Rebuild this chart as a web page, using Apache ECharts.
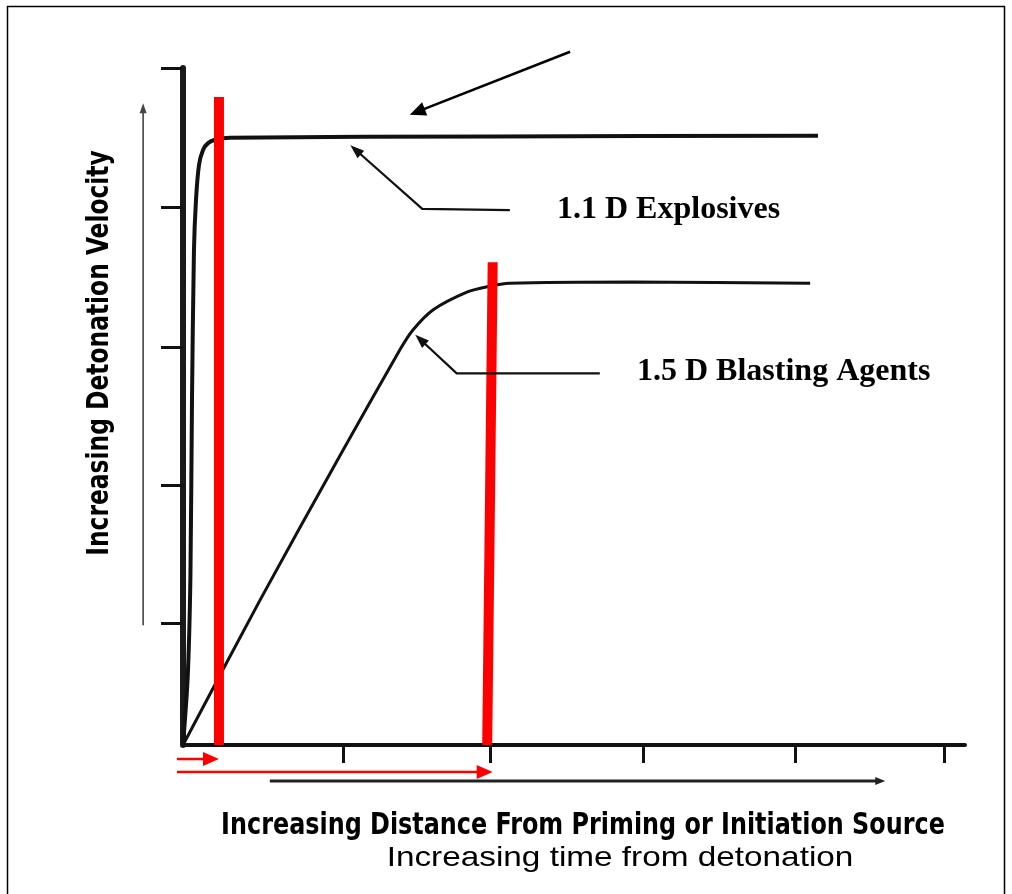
<!DOCTYPE html>
<html><head><meta charset="utf-8">
<script src="https://cdn.jsdelivr.net/npm/echarts@6/dist/echarts.min.js"></script>
<style>html,body{margin:0;padding:0;background:#fff}#c{width:1012px;height:894px}</style>
</head><body><div id="c"></div>
<script>
// ---- data (relative units: distance 0..100, velocity 0..100) ----
const xTicks = [20.5, 39.3, 58.8, 78.3, 97.4];
const yTicks = [18, 38.4, 58.8, 79.5, 100];
const explosives11 = [[0,0],[0.6,10],[0.95,25],[1.15,51],[1.4,73],[1.66,80.5],[2.05,85.7],[2.56,87.9],[3.2,88.9],[4.1,89.4],[6.0,89.7],[40,89.9],[81.2,90]];
const blasting15 = [[0,0],[9.85,21.4],[20.1,42.8],[27.7,58.3],[29.4,61.3],[32.0,64.3],[36.3,66.9],[38.9,67.7],[41.8,68.2],[57.5,68.4],[80.2,68.2]];
const redMarkA = [[4.6,0],[4.6,95.7]];
const redMarkB = [[38.9,0],[39.6,71.3]];
const redArrowShort = [[-0.77,-2.07],[4.6,-2.07]];
const redArrowLong = [[-0.77,-4.0],[39.6,-4.0]];
const topPointer = [[49.5,102.4],[29.0,93.1]];
const velocityArrow = [[-5.1,17.7],[-5.1,94.8]];
const distanceArrow = [[11.1,-5.3],[89.8,-5.3]];
const leader11 = [[41.8,79.0],[30.6,79.2],[21.4,88.6]];
const leader15 = [[53.3,54.9],[35.0,54.9],[29.7,60.6]];
const labels = ['1.1 D Explosives', '1.5 D Blasting Agents'];
const yTitle = 'Increasing Detonation Velocity';
const xTitle1 = 'Increasing Distance From Priming or Initiation Source';
const xTitle2 = 'Increasing time from detonation';

// ---- annotation styling (kept separate from data) ----
const annotations = [
  {pts: redArrowShort, color: '#ff0000', width: 2.5, head: [16, 7]},
  {pts: redArrowLong, color: '#ff0000', width: 2.5, head: [16, 7]},
  {pts: topPointer, color: '#000', width: 2.5, head: [16, 7]},
  {pts: velocityArrow, color: '#444', width: 1.6, head: [10, 3.5]},
  {pts: distanceArrow, color: '#222', width: 3, head: [10, 4]},
  {pts: leader11, color: '#111', width: 2.2, head: [14, 5]},
  {pts: leader15, color: '#111', width: 2.2, head: [14, 5]}
];

function renderArrow(params, api) {
  const a = annotations[params.dataIndex];
  const c = a.pts.map(p => api.coord(p));
  const n = c.length;
  const tip = c[n-1], prev = c[n-2];
  const dx = tip[0]-prev[0], dy = tip[1]-prev[1];
  const len = Math.sqrt(dx*dx+dy*dy);
  const ux = dx/len, uy = dy/len;
  const L = a.head[0], W = a.head[1];
  const base = [tip[0]-ux*L, tip[1]-uy*L];
  const linePts = c.slice(0, n-1).concat([[tip[0]-ux*L*0.6, tip[1]-uy*L*0.6]]);
  return {
    type: 'group',
    children: [
      {type: 'polyline', shape: {points: linePts}, style: {stroke: a.color, lineWidth: a.width, fill: null, lineJoin: 'round'}},
      {type: 'polygon', shape: {points: [tip, [base[0]-uy*W, base[1]+ux*W], [base[0]+uy*W, base[1]-ux*W]]}, style: {fill: a.color}}
    ]
  };
}

const chart = echarts.init(document.getElementById('c'), null, {renderer: 'canvas'});
const condensed = "'Liberation Sans Narrow', 'DejaVu Sans Condensed', 'Liberation Sans', Arial, sans-serif";
chart.setOption({
  backgroundColor: '#fff',
  animation: false,
  grid: {left: 183, top: 68, width: 782, height: 677},
  xAxis: {
    type: 'value', min: 0, max: 100,
    splitLine: {show: false},
    axisLine: {show: true, onZero: false, lineStyle: {color: '#111', width: 4}},
    axisTick: {show: true, inside: false, length: 18, customValues: xTicks, lineStyle: {color: '#111', width: 3}},
    axisLabel: {show: false}
  },
  yAxis: {
    type: 'value', min: 0, max: 100,
    splitLine: {show: false},
    axisLine: {show: true, onZero: false, lineStyle: {color: '#1a1a1a', width: 6}},
    axisTick: {show: true, inside: false, length: 22, customValues: yTicks, lineStyle: {color: '#111', width: 3}},
    axisLabel: {show: false}
  },
  series: [
    {type: 'line', data: explosives11, smooth: 0.25, showSymbol: false, clip: false,
     lineStyle: {color: '#111', width: 4}, z: 3},
    {type: 'line', data: blasting15, smooth: 0.25, showSymbol: false, clip: false,
     lineStyle: {color: '#111', width: 3}, z: 3},
    {type: 'line', data: redMarkA, showSymbol: false, clip: false,
     lineStyle: {color: '#ff0000', width: 10, cap: 'butt'}, z: 5},
    {type: 'line', data: redMarkB, showSymbol: false, clip: false,
     lineStyle: {color: '#ff0000', width: 10, cap: 'butt'}, z: 5},
    {type: 'custom', renderItem: renderArrow, clip: false, z: 6,
     data: annotations.map((a, i) => [a.pts[0][0], a.pts[0][1]])}
  ],
  graphic: [
    {type: 'rect', shape: {x: 7.5, y: 6.5, width: 997, height: 900}, style: {fill: null, stroke: '#000', lineWidth: 1.5}, silent: true},
    {type: 'text', left: 557, top: 194, style: {text: labels[0], font: "bold 32px 'Liberation Serif', 'Times New Roman', serif", fill: '#000'}},
    {type: 'text', left: 637, top: 356, style: {text: labels[1], font: "bold 32px 'Liberation Serif', 'Times New Roman', serif", fill: '#000'}},
    {type: 'text', x: 100, y: 353, rotation: Math.PI/2, scaleX: 0.866, style: {text: yTitle, font: "bold 30px " + condensed, fill: '#000', align: 'center', verticalAlign: 'middle'}},
    {type: 'text', x: 583, y: 826, scaleX: 0.885, style: {text: xTitle1, font: "bold 30px " + condensed, fill: '#000', align: 'center', verticalAlign: 'middle'}},
    {type: 'text', x: 620, y: 858, scaleX: 1.19, style: {text: xTitle2, font: "28px 'Liberation Sans', Arial, sans-serif", fill: '#000', align: 'center', verticalAlign: 'middle'}}
  ]
});
</script></body></html>
